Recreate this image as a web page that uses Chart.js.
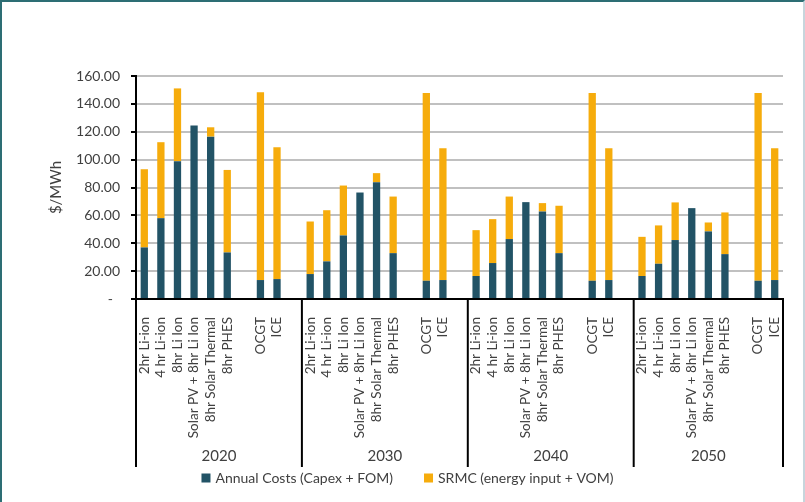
<!DOCTYPE html>
<html>
<head>
<meta charset="utf-8">
<script src="https://cdn.jsdelivr.net/npm/chart.js@4"></script>
<style>
body { margin: 0; background: #fff; }
#wrap { position: relative; width: 805px; height: 502px; }
#frame {
    position: absolute; left: 0; top: 0; width: 805px; height: 502px;
    box-sizing: border-box; pointer-events: none;
    border-top: 2px solid #2d6e74; border-left: 2px solid #2d6e74; border-right: 2px solid #c7d5dc;
}
</style>
</head>
<body>
<div id="wrap">
<canvas id="costChart" width="805" height="502"></canvas>
<div id="frame"></div>
</div>
<script>
// Years and technologies (blank entry = spacer between storage and gas)
const years = ["2020", "2030", "2040", "2050"];
const techs = ["2hr Li-ion", "4 hr Li-ion", "8hr Li Ion", "Solar PV + 8hr Li Ion", "8hr Solar Thermal", "8hr PHES", "", "OCGT", "ICE"];

// Annual Costs (Capex + FOM), $/MWh
const annual2020 = [37.0, 58.0, 98.9, 124.4, 116.5, 33.4, null, 13.6, 14.3];
const annual2030 = [17.9, 27.0, 45.6, 76.4, 83.8, 32.9, null, 13.1, 13.6];
const annual2040 = [16.5, 25.8, 43.0, 69.5, 62.8, 32.9, null, 13.1, 13.6];
const annual2050 = [16.5, 25.3, 42.3, 65.2, 48.5, 32.2, null, 13.1, 13.6];

// SRMC (energy input + VOM), $/MWh
const srmc2020 = [56.1, 54.5, 52.2, 0, 6.7, 59.2, null, 134.7, 94.6];
const srmc2030 = [37.7, 36.7, 35.8, 0, 6.5, 40.6, null, 134.7, 94.6];
const srmc2040 = [32.9, 31.5, 30.5, 0, 6.0, 34.0, null, 134.7, 94.6];
const srmc2050 = [28.1, 27.5, 27.0, 0, 6.4, 29.9, null, 134.7, 94.6];

const annualByYear = [annual2020, annual2030, annual2040, annual2050];
const srmcByYear = [srmc2020, srmc2030, srmc2040, srmc2050];

// flatten into one category axis, with an empty slot after each year except the last
let labels = [];
let annualData = [];
let srmcData = [];
let groupStart = [];
years.forEach((y, i) => {
    groupStart.push(labels.length);
    labels = labels.concat(techs);
    annualData = annualData.concat(annualByYear[i]);
    srmcData = srmcData.concat(srmcByYear[i]);
    if (i < years.length - 1) {
        labels.push("");
        annualData.push(null);
        srmcData.push(null);
    }
});

const textColor = "#404040";
const fontName = "Lato, 'Open Sans', sans-serif";

// year labels + separator lines under the category labels, and the legend row
const yearGroups = {
    id: "yearGroups",
    afterDraw(chart) {
        const ctx = chart.ctx;
        const x = chart.scales.x;
        const half = (x.getPixelForValue(1) - x.getPixelForValue(0)) / 2;
        const top = x.top;
        const bottom = x.bottom;
        const edges = groupStart.map(s => x.getPixelForValue(s) - half);
        edges.push(x.getPixelForValue(labels.length - 1) + half);

        ctx.save();
        ctx.strokeStyle = "#000";
        ctx.lineWidth = 2;
        edges.forEach(e => {
            ctx.beginPath();
            ctx.moveTo(e, top);
            ctx.lineTo(e, bottom);
            ctx.stroke();
        });
        ctx.fillStyle = textColor;
        ctx.font = "15px " + fontName;
        ctx.textAlign = "center";
        ctx.textBaseline = "middle";
        years.forEach((y, i) => {
            ctx.fillText(y, (edges[i] + edges[i + 1]) / 2, bottom - 11);
        });

        // legend
        const sets = chart.data.datasets;
        const box = 9, gap = 5, spacing = 31;
        ctx.font = "14px " + fontName;
        ctx.textAlign = "left";
        const widths = sets.map(d => box + gap + ctx.measureText(d.label).width);
        const total = widths.reduce((a, b) => a + b, 0) + spacing * (sets.length - 1);
        let lx = chart.width / 2 + 5 - total / 2;
        const ly = bottom + 11;
        sets.forEach((d, i) => {
            ctx.fillStyle = d.backgroundColor;
            ctx.fillRect(lx, ly - box / 2, box, box);
            ctx.fillStyle = textColor;
            ctx.fillText(d.label, lx + box + gap, ly);
            lx += widths[i] + spacing;
        });
        ctx.restore();
    }
};

new Chart(document.getElementById("costChart"), {
    type: "bar",
    data: {
        labels: labels,
        datasets: [{
            label: "Annual Costs (Capex + FOM)",
            data: annualData,
            backgroundColor: "#225366"
        }, {
            label: "SRMC (energy input + VOM)",
            data: srmcData,
            backgroundColor: "#f6ac0c"
        }]
    },
    options: {
        responsive: false,
        animation: false,
        layout: {
            padding: { top: 76, left: 47, right: 22, bottom: 35 }
        },
        datasets: {
            bar: { categoryPercentage: 1, barPercentage: 0.44 }
        },
        plugins: {
            legend: { display: false },
            tooltip: { enabled: false }
        },
        scales: {
            x: {
                stacked: true,
                grid: { display: false },
                border: { color: "#000", width: 2 },
                ticks: {
                    color: textColor,
                    font: { family: fontName, size: 13.5 },
                    minRotation: 90,
                    maxRotation: 90,
                    autoSkip: false,
                    padding: 10
                },
                afterFit(scale) { scale.height = 168; }
            },
            y: {
                stacked: true,
                min: 0,
                max: 160,
                grid: {
                    color: "#c0c0c0",
                    lineWidth: 2,
                    tickColor: "#000",
                    tickLength: 5
                },
                border: { color: "#000", width: 2 },
                ticks: {
                    stepSize: 20,
                    color: textColor,
                    font: { family: fontName, size: 14 },
                    padding: 11,
                    callback: v => v === 0 ? "-  " : v.toFixed(2)
                },
                title: {
                    display: true,
                    text: "$/MWh",
                    color: textColor,
                    font: { family: fontName, size: 15 },
                    padding: { top: 0, bottom: 0 }
                },
                afterFit(scale) { scale.width = 89; }
            }
        }
    },
    plugins: [yearGroups]
});
</script>
</body>
</html>
